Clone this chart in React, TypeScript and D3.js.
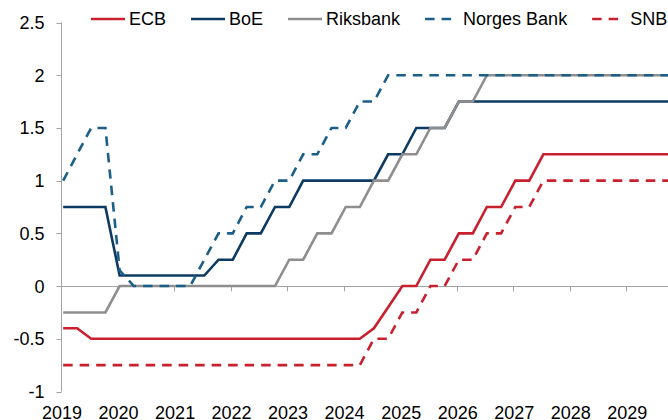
import React, { useEffect, useRef } from "react";
import * as d3 from "d3";

// quarterly policy rate paths, 2019Q1 .. 2029Q4
const ecb = [
  -0.4, -0.4, -0.5, -0.5,
  -0.5, -0.5, -0.5, -0.5,
  -0.5, -0.5, -0.5, -0.5,
  -0.5, -0.5, -0.5, -0.5,
  -0.5, -0.5, -0.5, -0.5,
  -0.5, -0.5, -0.4, -0.2,
  0, 0, 0.25, 0.25,
  0.5, 0.5, 0.75, 0.75,
  1, 1, 1.25, 1.25,
  1.25, 1.25, 1.25, 1.25,
  1.25, 1.25, 1.25, 1.25,
];
const boe = [
  0.75, 0.75, 0.75, 0.75,
  0.1, 0.1, 0.1, 0.1,
  0.1, 0.1, 0.1, 0.25,
  0.25, 0.5, 0.5, 0.75,
  0.75, 1, 1, 1,
  1, 1, 1, 1.25,
  1.25, 1.5, 1.5, 1.5,
  1.75, 1.75, 1.75, 1.75,
  1.75, 1.75, 1.75, 1.75,
  1.75, 1.75, 1.75, 1.75,
  1.75, 1.75, 1.75, 1.75,
];
const riksbank = [
  -0.25, -0.25, -0.25, -0.25,
  0, 0, 0, 0,
  0, 0, 0, 0,
  0, 0, 0, 0,
  0.25, 0.25, 0.5, 0.5,
  0.75, 0.75, 1, 1,
  1.25, 1.25, 1.5, 1.5,
  1.75, 1.75, 2, 2,
  2, 2, 2, 2,
  2, 2, 2, 2,
  2, 2, 2, 2,
];
const norges = [
  1, 1.25, 1.5, 1.5,
  0.15, 0, 0, 0,
  0, 0, 0.25, 0.5,
  0.5, 0.75, 0.75, 1,
  1, 1.25, 1.25, 1.5,
  1.5, 1.75, 1.75, 2,
  2, 2, 2, 2,
  2, 2, 2, 2,
  2, 2, 2, 2,
  2, 2, 2, 2,
  2, 2, 2, 2,
];
const snb = [
  -0.75, -0.75, -0.75, -0.75,
  -0.75, -0.75, -0.75, -0.75,
  -0.75, -0.75, -0.75, -0.75,
  -0.75, -0.75, -0.75, -0.75,
  -0.75, -0.75, -0.75, -0.75,
  -0.75, -0.75, -0.5, -0.5,
  -0.25, -0.25, 0, 0,
  0.25, 0.25, 0.5, 0.5,
  0.75, 0.75, 1, 1,
  1, 1, 1, 1,
  1, 1, 1, 1,
];

const seriesNames = ["ECB", "BoE", "Riksbank", "Norges Bank", "SNB"];
const seriesValues = [ecb, boe, riksbank, norges, snb];
const seriesColors = ["#c8202f", "#0c3a62", "#8e8e8e", "#1b5f88", "#c8202f"];
const seriesDashed = [false, false, false, true, true];

const yTicks = [-1, -0.5, 0, 0.5, 1, 1.5, 2, 2.5];
const xYears = [2019, 2020, 2021, 2022, 2023, 2024, 2025, 2026, 2027, 2028, 2029];

const width = 668;
const height = 420;
const font = "'Liberation Sans', Arial, sans-serif";
const axisColor = "#a3a3a3";

export default function App() {
  const ref = useRef<SVGSVGElement>(null);

  useEffect(() => {
    const svg = d3.select(ref.current);
    svg.selectAll("*").remove();

    // quarters, dated mid first month
    const dates = d3.range(ecb.length).map(i => new Date(2019 + Math.floor(i / 4), (i % 4) * 3, 15));

    const x = d3.scaleTime()
      .domain([new Date(2019, 0, 1), new Date(2029, 0, 1)])
      .range([61, 626.3]);
    const y = d3.scaleLinear().domain([-1, 2.5]).range([391.5, 22.5]);

    // y axis
    const yAxis = svg.append("g");
    yAxis.append("line")
      .attr("x1", 61.5).attr("x2", 61.5)
      .attr("y1", y(2.5)).attr("y2", y(-1))
      .attr("stroke", axisColor);
    yAxis.selectAll("line.tick").data(yTicks).enter().append("line")
      .attr("class", "tick")
      .attr("x1", 56.5).attr("x2", 61.5)
      .attr("y1", d => Math.round(y(d)) + 0.5).attr("y2", d => Math.round(y(d)) + 0.5)
      .attr("stroke", axisColor);
    yAxis.selectAll("text").data(yTicks).enter().append("text")
      .attr("x", 44.5)
      .attr("y", d => y(d))
      .attr("dy", "0.36em")
      .attr("text-anchor", "end")
      .style("font-family", font)
      .style("font-size", "18px")
      .attr("fill", "#000")
      .text(d => String(d));

    // x axis on zero line
    const y0 = Math.round(y(0)) + 0.5;
    const xAxis = svg.append("g");
    xAxis.append("line")
      .attr("x1", 61).attr("x2", width)
      .attr("y1", y0).attr("y2", y0)
      .attr("stroke", axisColor);
    xAxis.selectAll("line.tick").data(xYears).enter().append("line")
      .attr("class", "tick")
      .attr("x1", d => Math.round(x(new Date(d, 0, 1))) + 0.5)
      .attr("x2", d => Math.round(x(new Date(d, 0, 1))) + 0.5)
      .attr("y1", y0).attr("y2", y0 + 5)
      .attr("stroke", axisColor);
    xAxis.selectAll("text").data(xYears).enter().append("text")
      .attr("x", d => x(new Date(d, 0, 1)) + 1)
      .attr("y", 418.5)
      .attr("text-anchor", "middle")
      .style("font-family", font)
      .style("font-size", "18px")
      .attr("fill", "#000")
      .text(d => d);

    // lines
    const line = d3.line<number>()
      .x((d, i) => x(dates[i]))
      .y(d => y(d));

    seriesValues.forEach((vals, k) => {
      svg.append("path")
        .datum(vals)
        .attr("d", line)
        .attr("fill", "none")
        .attr("stroke", seriesColors[k])
        .attr("stroke-width", 2.6)
        .attr("stroke-linejoin", "miter")
        .attr("stroke-dasharray", seriesDashed[k] ? "9.5,7" : null);
    });

    // legend
    const legend = svg.append("g");
    let lx = 91;
    const ly = 19;
    seriesNames.forEach((name, k) => {
      legend.append("line")
        .attr("x1", lx).attr("x2", lx + (seriesDashed[k] ? 26 : 34))
        .attr("y1", ly).attr("y2", ly)
        .attr("stroke", seriesColors[k])
        .attr("stroke-width", 2.6)
        .attr("stroke-dasharray", seriesDashed[k] ? "9.5,7" : null);
      const t = legend.append("text")
        .attr("x", lx + 38)
        .attr("y", ly)
        .attr("dy", "0.36em")
        .style("font-family", font)
        .style("font-size", "18px")
        .attr("fill", "#000")
        .text(name);
      const w = (t.node() as SVGTextElement).getComputedTextLength();
      lx = lx + 38 + w + 25;
    });
  }, []);

  return (
    <svg ref={ref} width={width} height={height}
      style={{ position: "absolute", left: 0, top: 0, background: "#fff" }} />
  );
}
